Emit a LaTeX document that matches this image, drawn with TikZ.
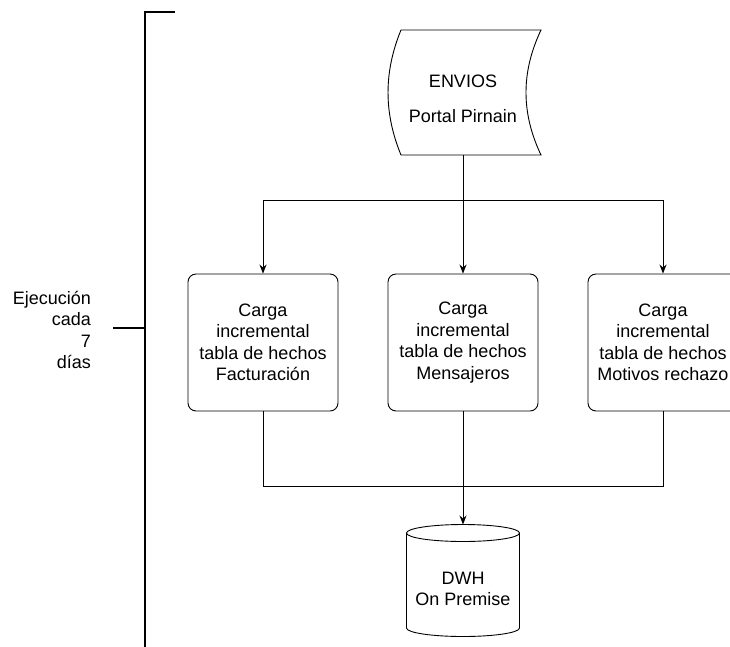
\documentclass[tikz,border=0pt]{standalone}
\usepackage{fontspec}
\setmainfont{Liberation Sans}
\usetikzlibrary{arrows.meta}
\begin{document}
\begin{tikzpicture}[x=1pt,y=-1pt,
  every node/.style={font=\fontsize{18}{21.5}\selectfont},
  loadbox/.style={draw,line width=0.9pt,rounded corners=8pt,minimum width=150pt,minimum height=137pt,align=center,inner sep=0pt},
  link/.style={line width=0.9pt},
  arrowlink/.style={link,-{Stealth[length=9pt,width=7pt]}},
  bracket/.style={line width=2.4pt}]
\clip (0,0) rectangle (730,646);

% source: stored-data shape
\node[minimum width=140pt,minimum height=125pt,align=center,inner sep=0pt] (envios) at (463,99)
  {ENVIOS\\[13pt]Portal Pirnain};
\draw[line width=0.9pt] (401,30) -- (541,30)
  .. controls (521,72) and (521,113) .. (541,155) -- (401,155)
  .. controls (383.7,113) and (383.7,72) .. (401,30) -- cycle;
\coordinate (src) at (463,155);

% incremental loads
\node[loadbox] (fact) at (263,342.5) {Carga\\incremental\\tabla de hechos\\Facturación};
\node[loadbox] (mens) at (463,342.5) {Carga\\incremental\\tabla de hechos\\Mensajeros};
\node[loadbox] (motiv) at (663,342.5) {Carga\\incremental\\tabla de hechos\\Motivos rechazo};

% warehouse cylinder
\node[align=center,inner sep=0pt] (dwh) at (463,589) {DWH\\On Premise};
\draw[line width=0.9pt] (406.5,533) arc[start angle=180,end angle=-180,x radius=56.5,y radius=8.5];
\draw[line width=0.9pt] (406.5,533) -- (406.5,628) arc[start angle=180,end angle=0,x radius=56.5,y radius=8.5] -- (519.5,533);
\coordinate (dwhtop) at (463,524.5);

% fan-out
\coordinate (split) at (463,200);
\draw[link] (src) -- (split);
\draw[arrowlink] (split) -| (fact.north);
\draw[arrowlink] (split) -- (mens.north);
\draw[arrowlink] (split) -| (motiv.north);

% fan-in
\coordinate (join) at (463,486);
\draw[link] (fact.south) |- (join);
\draw[link] (motiv.south) |- (join);
\draw[link] (mens.south) -- (join);
\draw[arrowlink] (join) -- (dwhtop);

% schedule bracket
\coordinate (btop) at (145,12);
\coordinate (bbot) at (145,650);
\coordinate (bmid) at (145,328);
\draw[bracket] (175,12) -- (btop) -- (bbot);
\draw[bracket] (113,328) -- (bmid);
\node[align=right,anchor=east,inner sep=0pt] (sched) at (91,330) {Ejecución\\cada\\7\\días};
\end{tikzpicture}
\end{document}
